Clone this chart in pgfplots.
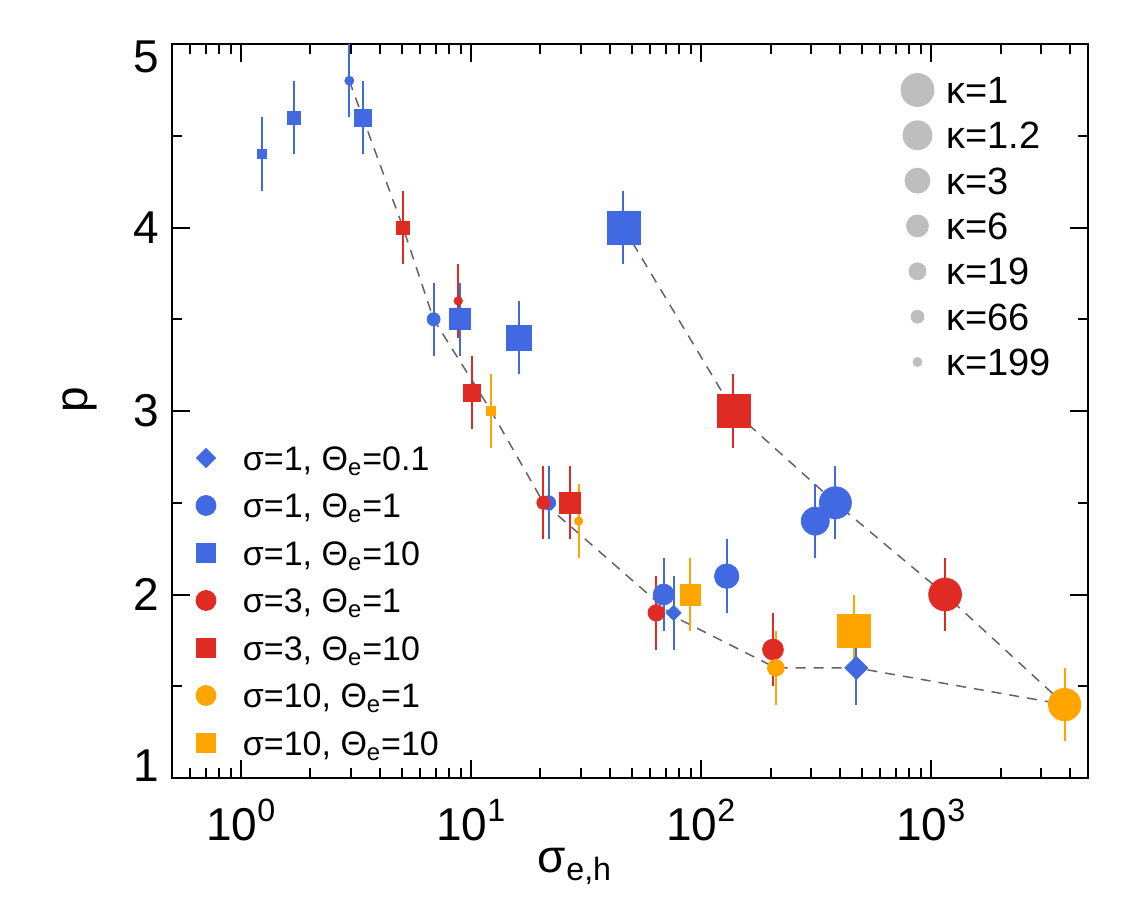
\documentclass[border=0pt]{standalone}
\usepackage{pgfplots}
\pgfplotsset{compat=1.18}
\usepackage{fontspec}
\setmainfont{Liberation Sans}
\definecolor{cBlue}{RGB}{65,105,225}
\definecolor{cRed}{RGB}{224,42,36}
\definecolor{cOrange}{RGB}{255,165,0}
\definecolor{cGray}{RGB}{190,190,190}
\definecolor{cLine}{RGB}{100,100,100}

\pgfdeclareplotmark{rdiamond*}{%
  \pgfpathmoveto{\pgfqpoint{0pt}{\pgfplotmarksize}}%
  \pgfpathlineto{\pgfqpoint{\pgfplotmarksize}{0pt}}%
  \pgfpathlineto{\pgfqpoint{0pt}{-\pgfplotmarksize}}%
  \pgfpathlineto{\pgfqpoint{-\pgfplotmarksize}{0pt}}%
  \pgfpathclose
  \pgfusepathqfillstroke}

\pgfplotsset{
  pts/.style 2 args={only marks, mark=#2, color=#1, forget plot,
    scatter, scatter/use mapped color={draw=#1, fill=#1},
    visualization depends on={\thisrow{s} \as \msize},
    scatter/@pre marker code/.append style={/tikz/mark size=\msize pt},
    error bars/y dir=both, error bars/y explicit, error bars/error mark=none,
    error bars/error bar style={line width=1pt, solid, #1}},
}

\begin{document}
\begin{tikzpicture}
\useasboundingbox (-86pt,-69.5pt) rectangle (487pt,389pt);
\begin{axis}[
  scale only axis, width=458pt, height=367pt,
  xmode=log, xmin=0.5, xmax=4800, ymin=1, ymax=5,
  xtick={1,10,100,1000},
  xticklabels={10\textsuperscript{0},10\textsuperscript{1},10\textsuperscript{2},10\textsuperscript{3}},
  minor xtick={0.6,0.7,0.8,0.9,2,3,4,5,6,7,8,9,20,30,40,50,60,70,80,90,200,300,400,500,600,700,800,900,2000,3000,4000},
  ytick={1,2,3,4,5},
  yticklabels={\raisebox{12pt}{1},2,3,4,\raisebox{-13pt}[\height][13pt]{5}},
  minor ytick={1.5,2.5,3.5,4.5},
  tick pos=both, tick align=inside,
  major tick length=9pt, minor tick length=5pt,
  every tick/.style={black, line width=1pt},
  axis line style={line width=1.2pt},
  tick label style={font=\fontsize{23}{27}\selectfont, inner sep=0pt},
  xticklabel style={anchor=base, yshift=-31pt},
  yticklabel style={anchor=east, xshift=-6.5pt},
  label style={font=\fontsize{23}{27}\selectfont, inner sep=0pt},
  xlabel={σ\textsubscript{e,h}},
  xlabel style={at={(axis description cs:0.44,0)}, anchor=north, yshift=-35pt},
  ylabel={p},
  ylabel style={at={(axis description cs:-0.1004,0.515)}, anchor=center},
  legend image code/.code={\draw[#1] plot coordinates {(0pt,0pt)};},
  legend style={draw=none, fill=none, at={(axis description cs:0.0262,0.4578)}, anchor=north west,
    inner sep=0pt, outer sep=0pt, row sep=7.75pt, column sep=13.5pt,
    font=\fontsize{17}{20}\selectfont,
    nodes={inner sep=0pt, text height=14.1pt, text depth=1.9pt}},
  legend cell align=left,
]
\addlegendimage{mark=rdiamond*, mark size=4.8pt, cBlue}
\addlegendentry{σ=1, Θ\textsubscript{e}=0.1}
\addlegendimage{mark=*, mark size=5pt, cBlue}
\addlegendentry{σ=1, Θ\textsubscript{e}=1}
\addlegendimage{mark=square*, mark size=4.8pt, cBlue}
\addlegendentry{σ=1, Θ\textsubscript{e}=10}
\addlegendimage{mark=*, mark size=5pt, cRed}
\addlegendentry{σ=3, Θ\textsubscript{e}=1}
\addlegendimage{mark=square*, mark size=4.8pt, cRed}
\addlegendentry{σ=3, Θ\textsubscript{e}=10}
\addlegendimage{mark=*, mark size=5pt, cOrange}
\addlegendentry{σ=10, Θ\textsubscript{e}=1}
\addlegendimage{mark=square*, mark size=4.8pt, cOrange}
\addlegendentry{σ=10, Θ\textsubscript{e}=10}

% dashed guide lines
\addplot[cLine, dash pattern=on 5pt off 4pt, line width=0.75pt, forget plot]
  coordinates {(2.95,4.8)(5.05,4.0)(6.86,3.5)(12.2,3.0)(20.6,2.5)(76,1.88)(211,1.6)(472,1.6)(3800,1.4)};
\addplot[cLine, dash pattern=on 5pt off 4pt, line width=0.75pt, forget plot]
  coordinates {(45.9,4.0)(138,3.0)(383,2.5)(1148,2.0)(3800,1.4)};

% sigma=1, Theta=0.1
\addplot[pts={cBlue}{rdiamond*}] table[x=x,y=y,y error=e] {
x y e s
75.8 1.9 0.2 3.75
472 1.6 0.2 5.75
};
% sigma=1, Theta=1
\addplot[pts={cBlue}{*}] table[x=x,y=y,y error=e] {
x y e s
2.95 4.8 0.2 2.25
6.86 3.5 0.2 3.25
21.7 2.5 0.2 3.5
68.6 2.0 0.2 5.2
129 2.1 0.2 6.1
313 2.4 0.2 7.0
383 2.5 0.2 8.0
};
% sigma=1, Theta=10
\addplot[pts={cBlue}{square*}] table[x=x,y=y,y error=e] {
x y e s
1.23 4.4 0.2 2.25
1.69 4.6 0.2 3.25
3.38 4.6 0.2 4.25
8.96 3.5 0.2 5.2
16.1 3.4 0.2 6.25
45.9 4.0 0.2 8.25
};
% sigma=3, Theta=1
\addplot[pts={cRed}{*}] table[x=x,y=y,y error=e] {
x y e s
8.78 3.6 0.2 2.1
20.6 2.5 0.2 3.3
63.7 1.9 0.2 4.1
205 1.7 0.2 5.2
1148 2.0 0.2 8.2
};
% sigma=3, Theta=10
\addplot[pts={cRed}{square*}] table[x=x,y=y,y error=e] {
x y e s
5.05 4.0 0.2 3.25
10.1 3.1 0.2 4.25
26.9 2.5 0.2 5.2
138 3.0 0.2 8.25
};
% sigma=10, Theta=1
\addplot[pts={cOrange}{*}] table[x=x,y=y,y error=e] {
x y e s
29.3 2.4 0.2 2.1
211 1.6 0.2 4.2
3800 1.4 0.2 8.1
};
% sigma=10, Theta=10
\addplot[pts={cOrange}{square*}] table[x=x,y=y,y error=e] {
x y e s
12.2 3.0 0.2 2.25
89.6 2.0 0.2 5.2
459 1.8 0.2 8.2
};
\end{axis}

% kappa size legend
\begin{axis}[
  scale only axis, width=458pt, height=367pt, hide axis,
  xmin=0, xmax=1, ymin=0, ymax=1,
  legend image code/.code={\draw[#1] plot coordinates {(0pt,0pt)};},
  legend style={draw=none, fill=none, at={(axis description cs:0.7958,0.9619)}, anchor=north west,
    inner sep=0pt, outer sep=0pt, row sep=4.67pt, column sep=6.25pt,
    font=\fontsize{19}{22}\selectfont,
    nodes={inner sep=0pt, text height=15.8pt, text depth=2.2pt}},
  legend cell align=left,
]
\addlegendimage{mark=*, mark size=8.25pt, cGray}
\addlegendentry{κ=1}
\addlegendimage{mark=*, mark size=7.25pt, cGray}
\addlegendentry{κ=1.2}
\addlegendimage{mark=*, mark size=6.25pt, cGray}
\addlegendentry{κ=3}
\addlegendimage{mark=*, mark size=5.5pt, cGray}
\addlegendentry{κ=6}
\addlegendimage{mark=*, mark size=4.25pt, cGray}
\addlegendentry{κ=19}
\addlegendimage{mark=*, mark size=3.25pt, cGray}
\addlegendentry{κ=66}
\addlegendimage{mark=*, mark size=2.25pt, cGray}
\addlegendentry{κ=199}
\addplot[draw=none, forget plot] coordinates {(0.5,0.5)};
\end{axis}
\end{tikzpicture}
\end{document}
